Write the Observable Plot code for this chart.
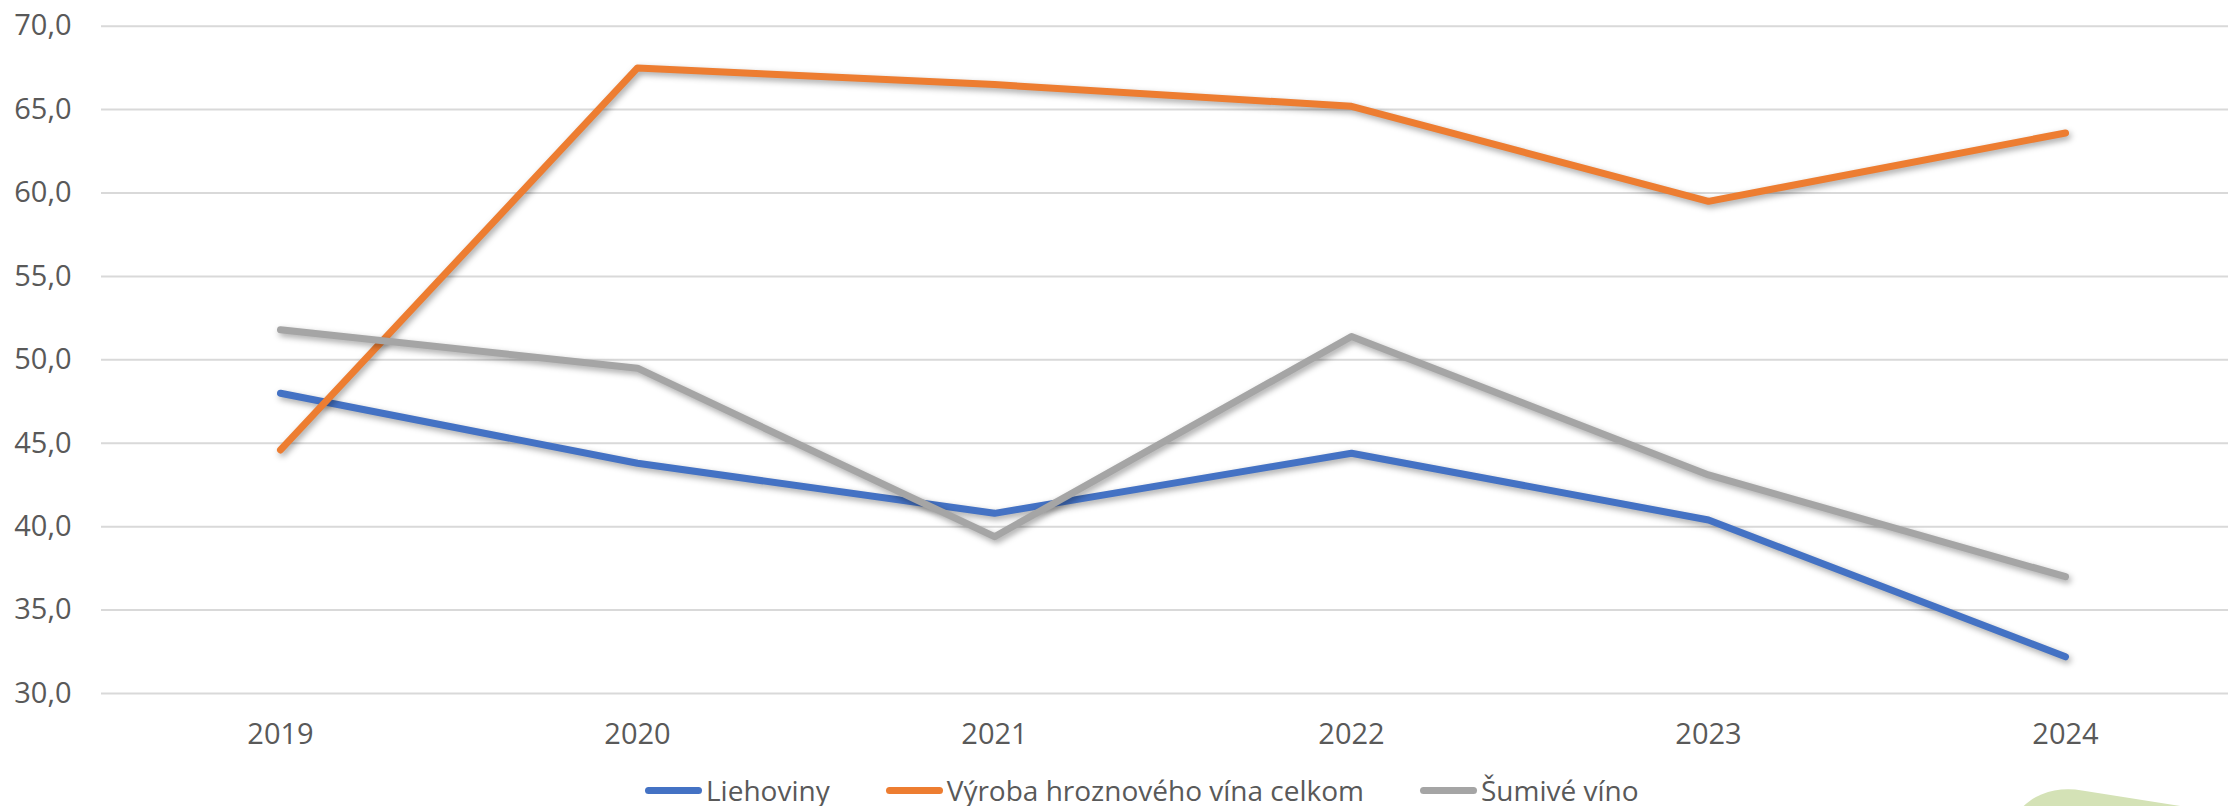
<!DOCTYPE html>
<html><head><meta charset="utf-8">
<script src="https://cdn.jsdelivr.net/npm/d3@7"></script>
<script src="https://cdn.jsdelivr.net/npm/@observablehq/plot@0.6"></script>
<style>
html,body{margin:0;padding:0;background:#fff;width:2228px;height:806px;overflow:hidden;font-family:"Open Sans",sans-serif;}
#chart{position:absolute;left:0;top:0}
#legend{position:absolute;left:645px;top:770px;height:40px;display:flex;align-items:center;gap:56px;font-size:28px;color:#595959;white-space:nowrap;}
.item{display:flex;align-items:center;gap:4px}
.sw{width:57px;height:7px;border-radius:4px}
#blob{position:absolute;left:2010px;top:779px;width:400px;height:200px;background:#d4e2b6;border-top-left-radius:72px 60px;transform:skewY(9deg);transform-origin:0 0;}
</style></head><body>
<div id="chart"></div>
<div id="legend"></div>
<div id="blob"></div>
<script>
const years = ["2019","2020","2021","2022","2023","2024"];
const seriesNames = ["Liehoviny","Výroba hroznového vína celkom","Šumivé víno"];
const seriesColors = ["#4472C4","#ED7D31","#A5A5A5"];
const liehoviny = [48.0, 43.8, 40.8, 44.4, 40.4, 32.2];
const vyroba = [44.6, 67.5, 66.5, 65.2, 59.5, 63.6];
const sumive = [51.8, 49.5, 39.4, 51.4, 43.1, 37.0];
const yTicks = [30,35,40,45,50,55,60,65,70];

const allValues = [liehoviny, vyroba, sumive];
const rows = [];
seriesNames.forEach((s, i) => years.forEach((y, j) => rows.push({series: s, year: y, value: allValues[i][j]})));

const fmt = d => d.toFixed(1).replace(".", ",");

const plot = Plot.plot({
  width: 2228,
  height: 760,
  marginLeft: 101,
  marginRight: 0,
  marginTop: 25.7,
  marginBottom: 67,
  style: {fontFamily: "'Open Sans', sans-serif", color: "#595959", background: "transparent"},
  x: {type: "point", domain: years, range: [279.7, 2066], padding: 0},
  y: {domain: [30, 70]},
  color: {domain: seriesNames, range: seriesColors},
  marks: [
    Plot.ruleY(yTicks, {stroke: "#d9d9d9", strokeWidth: 2}),
    Plot.axisX({tickSize: 0, tickPadding: 30, fontSize: 29, fill: "#595959", label: null}),
    Plot.axisY({ticks: yTicks, tickFormat: fmt, tickSize: 0, tickPadding: 30, fontSize: 29, fill: "#595959", label: null}),
    Plot.line(rows, {x: "year", y: "value", z: "series", stroke: "series", strokeWidth: 7, strokeLinecap: "round", strokeLinejoin: "round"})
  ]
});
document.getElementById("chart").appendChild(plot);
d3.select(plot).selectAll('g[aria-label="line"] path').style("filter", "drop-shadow(2px 3px 3px rgba(0,0,0,0.35))");

const legend = d3.select("#legend");
seriesNames.forEach((s, i) => {
  const it = legend.append("div").attr("class", "item");
  it.append("div").attr("class", "sw").style("background", seriesColors[i]);
  it.append("span").text(s);
});
</script>
</body></html>
